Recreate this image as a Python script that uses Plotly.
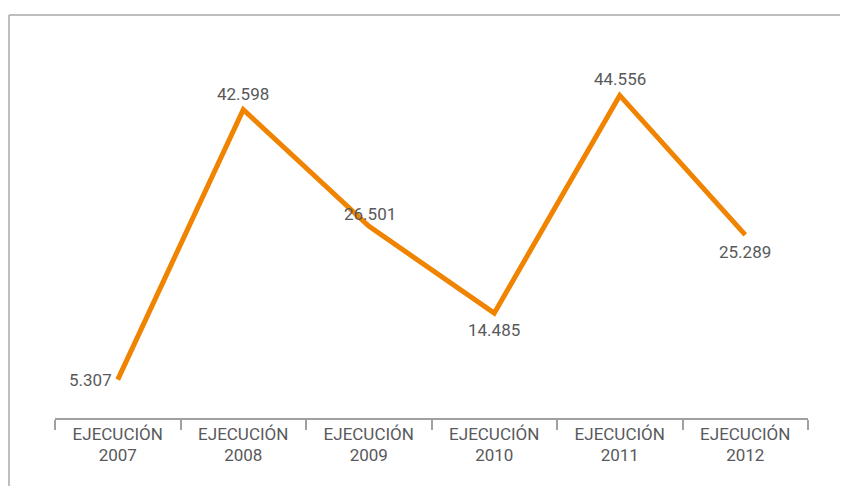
import plotly.graph_objects as go

label_prefix = "EJECUCIÓN"
years = ["2007", "2008", "2009", "2010", "2011", "2012"]
categories = [f"{label_prefix} {y}" for y in years]
values = [5.307, 42.598, 26.501, 14.485, 44.556, 25.289]
value_labels = ["5.307", "42.598", "26.501", "14.485", "44.556", "25.289"]

# label placement per point (style only)
label_pos = [("right", "middle", -4, 0), ("center", "bottom", 0, 4),
             ("center", "bottom", 1, 0), ("center", "top", 0, -5),
             ("center", "bottom", 0, 4), ("center", "top", 0, -5)]

TEXT = "#58595b"
FONT = "Roboto"

fig = go.Figure()
fig.add_trace(go.Scatter(
    x=categories, y=values, mode="lines",
    line=dict(color="#f08300", width=5),
    hoverinfo="skip", showlegend=False,
))
# same data on the overlay axis (invisible) to carry the year labels
fig.add_trace(go.Scatter(
    x=categories, y=values, mode="lines", xaxis="x2",
    line=dict(color="rgba(0,0,0,0)", width=0),
    hoverinfo="skip", showlegend=False,
))

for c, v, t, (xa, ya, xs, ys) in zip(categories, values, value_labels, label_pos):
    fig.add_annotation(x=c, y=v, text=t, showarrow=False,
                       xanchor=xa, yanchor=ya, xshift=xs, yshift=ys,
                       font=dict(family=FONT, size=17, color=TEXT))

fig.update_layout(
    width=840, height=478,
    margin=dict(l=47, r=40, t=48, b=68),
    paper_bgcolor="white", plot_bgcolor="white",
    xaxis=dict(
        type="category", range=[-0.5, 5.5], tickson="boundaries",
        categoryorder="array", categoryarray=categories,
        tickmode="array", tickvals=categories, ticktext=[label_prefix] * len(years),
        ticks="outside", ticklen=10, tickcolor="#a0a0a0", tickwidth=2,
        showline=True, linecolor="#a0a0a0", linewidth=2,
        showgrid=False, zeroline=False,
        tickfont=dict(family=FONT, size=17, color=TEXT),
    ),
    xaxis2=dict(
        type="category", range=[-0.5, 5.5], overlaying="x", anchor="y", side="bottom",
        categoryorder="array", categoryarray=categories,
        tickmode="array", tickvals=categories, ticktext=years,
        ticks="", ticklabelstandoff=25,
        showline=False, showgrid=False, zeroline=False,
        tickfont=dict(family=FONT, size=17, color=TEXT),
    ),
    yaxis=dict(range=[0, 50], visible=False, showgrid=False, zeroline=False),
    shapes=[
        dict(type="line", xref="paper", yref="paper", x0=-46/753, x1=850/753,
             y0=403/362, y1=403/362, line=dict(color="#a8a8a8", width=1.5)),
        dict(type="line", xref="paper", yref="paper", x0=-46/753, x1=-46/753,
             y0=403/362, y1=-80/362, line=dict(color="#a8a8a8", width=1.5)),
    ],
)

fig.write_html("out.html")
